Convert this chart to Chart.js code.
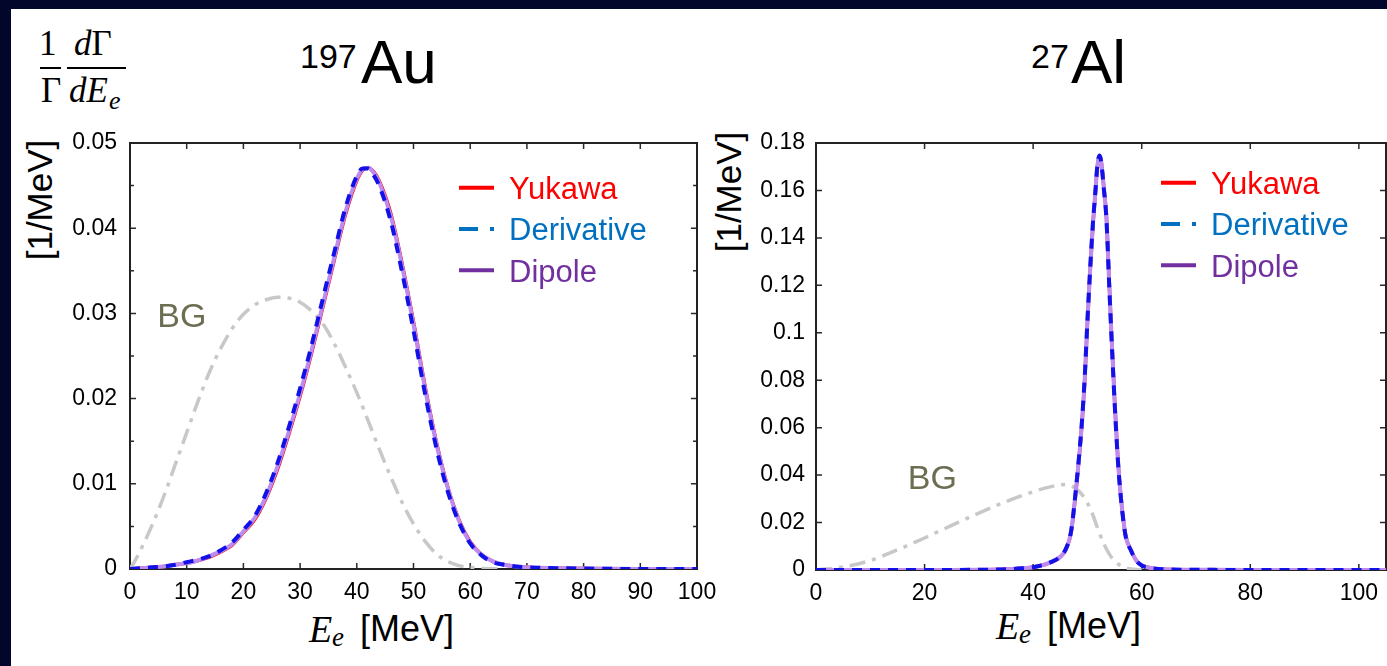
<!DOCTYPE html>
<html>
<head>
<meta charset="utf-8">
<script src="https://cdn.jsdelivr.net/npm/chart.js@4.4.1/dist/chart.umd.min.js"></script>
<style>
  html, body { margin:0; padding:0; width:1387px; height:666px; overflow:hidden; background:#01062a;
               font-family:"Liberation Sans", Arial, sans-serif; }
  #panel { position:absolute; left:11px; top:9px; width:1376px; height:657px; background:#fff; }
  canvas { position:absolute; top:0; }
  #cAu { left:0; }
  #cAl { left:720px; }
  .t { position:absolute; white-space:nowrap; color:#000; line-height:1; }
  .serif { font-family:"Liberation Serif", "DejaVu Serif", serif; }
  .it { font-style:italic; }
  .bar { position:absolute; height:2px; background:#000; }
  .ytitle { position:absolute; white-space:nowrap; line-height:1; font-size:35px;
            transform:translate(-50%,-50%) rotate(-90deg); }
</style>
</head>
<body>
<div id="panel"></div>

<!-- 1/Γ dΓ/dE_e -->
<div class="t serif" style="left:39px; top:26px; font-size:35px;">1</div>
<div class="bar" style="left:40px; top:67px; width:21px;"></div>
<div class="t serif" style="left:41px; top:73px; font-size:35px;">Γ</div>
<div class="t serif" style="left:74px; top:26px; font-size:35px;"><span class="it">d</span>Γ</div>
<div class="bar" style="left:67px; top:67px; width:59px;"></div>
<div class="t serif it" style="left:69px; top:73px; font-size:35px;">dE</div>
<div class="t serif it" style="left:109px; top:88px; font-size:26px;">e</div>

<!-- panel titles -->
<div class="t" style="left:300px; top:39px; font-size:34px;">197</div>
<div class="t" style="left:361px; top:31px; font-size:62px;">Au</div>
<div class="t" style="left:1031px; top:39px; font-size:34px;">27</div>
<div class="t" style="left:1071px; top:31px; font-size:62px;">Al</div>

<!-- axis titles -->
<div class="ytitle" style="left:39px; top:200px;">[1/MeV]</div>
<div class="ytitle" style="left:728px; top:192px;">[1/MeV]</div>

<div class="t serif it" style="left:309px; top:610px; font-size:38px;">E</div>
<div class="t serif it" style="left:332px; top:624px; font-size:27px;">e</div>
<div class="t" style="left:360px; top:611px; font-size:36px;">[MeV]</div>

<div class="t serif it" style="left:996px; top:607px; font-size:38px;">E</div>
<div class="t serif it" style="left:1019px; top:621px; font-size:27px;">e</div>
<div class="t" style="left:1047px; top:608px; font-size:36px;">[MeV]</div>

<canvas id="cAu" width="720" height="666"></canvas>
<canvas id="cAl" width="667" height="666"></canvas>

<script>
// ---------- 197Au : electron energy spectra (1/MeV) ----------
const auEnergy = [0,2,4,6,8,10,12,14,16,18,20,22,24,26,28,30,32,34,36,38,40,41,42,43,44,46,48,50,52,54,56,58,60,62,64,66,68,70,75,80,85,90,95,100];
const auYukawa = [0,0.0001,0.0002,0.0003,0.0005,0.0007,0.0010,0.0014,0.0020,0.0028,0.0043,0.0058,0.0083,0.0117,0.0158,0.0203,0.0253,0.0307,0.0362,0.0416,0.0456,0.0468,0.0471,0.0466,0.0455,0.0417,0.0358,0.0290,0.0216,0.0150,0.0097,0.0058,0.0032,0.0017,0.0009,0.0005,0.0003,0.0002,0.0001,0.00005,0.00002,0,0,0];
const auDerivative = [0,0.0001,0.0002,0.0003,0.0005,0.0008,0.0011,0.0015,0.0022,0.0031,0.0046,0.0062,0.0089,0.0124,0.0166,0.0212,0.0262,0.0317,0.0371,0.0424,0.0461,0.0470,0.0470,0.0462,0.0449,0.0408,0.0348,0.0280,0.0207,0.0143,0.0092,0.0055,0.0030,0.0016,0.0008,0.0005,0.0003,0.0002,0.0001,0.00005,0.00002,0,0,0];
const auDipole = [0,0.0001,0.0002,0.0003,0.0005,0.0007,0.0010,0.0015,0.0021,0.0029,0.0044,0.0060,0.0085,0.0120,0.0161,0.0206,0.0256,0.0310,0.0365,0.0419,0.0458,0.0469,0.0471,0.0465,0.0453,0.0414,0.0355,0.0287,0.0213,0.0148,0.0096,0.0057,0.0031,0.0017,0.0009,0.0005,0.0003,0.0002,0.0001,0.00005,0.00002,0,0,0];
const auBgEnergy = [0,1,2,4,6,8,10,12,14,16,18,20,22,24,26,27,28,30,32,34,36,38,40,42,44,46,48,50,52,54,56,58,60,62,65];
const auBg = [0,0.0011,0.0024,0.0053,0.0086,0.0123,0.0160,0.0197,0.0231,0.0259,0.0282,0.0299,0.0310,0.0316,0.0319,0.0319,0.0318,0.0313,0.0303,0.0288,0.0265,0.0237,0.0207,0.0174,0.0140,0.0108,0.0078,0.0053,0.0033,0.0018,0.0009,0.0004,0.0002,0.0001,0];
const auXTicks = [0,10,20,30,40,50,60,70,80,90,100];
const auYTicks = [0,0.01,0.02,0.03,0.04,0.05];
const auYMinor = [0.005,0.015,0.025,0.035,0.045];

// ---------- 27Al : electron energy spectra (1/MeV) ----------
const alEnergy = [0,5,10,15,20,25,30,35,38,40,42,43,44,45,46,47,48,48.5,49,49.5,50,50.5,51,51.5,51.75,52,52.25,52.5,52.75,53,53.5,54,54.5,55,55.5,56,57,58,59,60,62,65,70,80,90,100,105];
const alYukawa = [0,0,0,0,0,0,0.0001,0.0003,0.0007,0.0012,0.0022,0.0030,0.0040,0.0055,0.0085,0.0160,0.0360,0.0480,0.0620,0.0800,0.1040,0.1260,0.1450,0.1600,0.1680,0.1728,0.1745,0.1728,0.1680,0.1620,0.1490,0.1220,0.0960,0.0720,0.0510,0.0350,0.0150,0.0085,0.0040,0.0020,0.0007,0.0002,0.0001,0,0,0,0];
const alDerivative = [0,0,0,0,0,0,0.0001,0.0003,0.0007,0.0012,0.0022,0.0031,0.0041,0.0057,0.0088,0.0165,0.0368,0.0490,0.0630,0.0812,0.1052,0.1270,0.1458,0.1606,0.1684,0.1731,0.1747,0.1726,0.1676,0.1612,0.1478,0.1206,0.0948,0.0710,0.0502,0.0344,0.0147,0.0083,0.0039,0.0019,0.0007,0.0002,0.0001,0,0,0,0];
const alDipole = [0,0,0,0,0,0,0.0001,0.0003,0.0007,0.0012,0.0022,0.0030,0.0040,0.0056,0.0086,0.0162,0.0364,0.0485,0.0625,0.0806,0.1046,0.1265,0.1454,0.1603,0.1682,0.1730,0.1746,0.1727,0.1678,0.1616,0.1484,0.1213,0.0954,0.0715,0.0506,0.0347,0.0149,0.0084,0.0040,0.0020,0.0007,0.0002,0.0001,0,0,0,0];
const alBgEnergy = [0,5,10,15,20,25,30,35,40,42,44,45,46,47,48,49,50,51,52,53,54,55,56,57,58,60];
const alBg = [0,0.0013,0.0040,0.0085,0.0135,0.0188,0.0240,0.0288,0.0330,0.0344,0.0355,0.0359,0.0360,0.0355,0.0341,0.0318,0.0282,0.0232,0.0168,0.0112,0.0068,0.0038,0.0020,0.0010,0.0004,0];
const alXTicks = [0,20,40,60,80,100];
const alYTicks = [0,0.02,0.04,0.06,0.08,0.1,0.12,0.14,0.16,0.18];

const seriesNames = ['Yukawa','Derivative','Dipole'];
const FONT = '"Liberation Sans", Arial, sans-serif';

const pts = (xs, ys) => xs.map((x, i) => ({ x, y: ys[i] }));

// Frame around the plot area with inward ticks on all four sides
const frameTicks = {
  id: 'frameTicks',
  beforeDatasetsDraw(chart, args, o) {
    const { ctx, chartArea: a, scales: { x, y } } = chart;
    ctx.save();
    ctx.strokeStyle = '#2a2a2a';
    ctx.lineWidth = 1.5;
    ctx.beginPath();
    o.xMajor.forEach(v => {
      const px = x.getPixelForValue(v);
      ctx.moveTo(px, a.bottom); ctx.lineTo(px, a.bottom - o.len);
      ctx.moveTo(px, a.top); ctx.lineTo(px, a.top + o.len);
    });
    o.yMajor.forEach(v => {
      const py = y.getPixelForValue(v);
      ctx.moveTo(a.left, py); ctx.lineTo(a.left + o.len, py);
      ctx.moveTo(a.right, py); ctx.lineTo(a.right - o.len, py);
    });
    (o.yMinor || []).forEach(v => {
      const py = y.getPixelForValue(v);
      ctx.moveTo(a.left, py); ctx.lineTo(a.left + o.minorLen, py);
      ctx.moveTo(a.right, py); ctx.lineTo(a.right - o.minorLen, py);
    });
    ctx.stroke();
    ctx.lineWidth = 2;
    ctx.strokeStyle = '#222';
    ctx.strokeRect(a.left, a.top, a.right - a.left, a.bottom - a.top);
    ctx.restore();
  }
};

// Legend drawn inside the plot area, plus the "BG" note
const innerLegend = {
  id: 'innerLegend',
  afterDatasetsDraw(chart, args, o) {
    const { ctx, chartArea: a, scales: { x, y } } = chart;
    ctx.save();
    o.items.forEach((it, i) => {
      const yy = a.top + o.rowTop + i * o.rowGap;
      ctx.beginPath();
      ctx.setLineDash(it.dash);
      ctx.strokeStyle = it.line;
      ctx.lineWidth = 4;
      ctx.moveTo(a.left + o.sampleX, yy);
      ctx.lineTo(a.left + o.sampleX + o.sampleLen, yy);
      ctx.stroke();
      ctx.setLineDash([]);
      ctx.fillStyle = it.text;
      ctx.font = o.fontSize + 'px ' + FONT;
      ctx.textBaseline = 'alphabetic';
      ctx.textAlign = 'left';
      ctx.fillText(it.label, a.left + o.textX, yy + 0.37 * o.fontSize);
    });
    ctx.fillStyle = '#6d6d52';
    ctx.font = o.bgSize + 'px ' + FONT;
    ctx.textBaseline = 'middle';
    ctx.fillText('BG', x.getPixelForValue(o.bgAt[0]), y.getPixelForValue(o.bgAt[1]));
    ctx.restore();
  }
};

const legendItems = [
  { label: seriesNames[0], line: '#ff0000', text: '#ff0000', dash: [] },
  { label: seriesNames[1], line: '#0070c0', text: '#0070c0', dash: [19, 12, 4, 40] },
  { label: seriesNames[2], line: '#7030a0', text: '#7030a0', dash: [] }
];

function datasets(e, yuk, der, dip, bgE, bg) {
  const base = { pointRadius: 0, fill: false, cubicInterpolationMode: 'monotone' };
  return [
    Object.assign({ label: seriesNames[1], data: pts(e, der), borderColor: '#1212e8', borderWidth: 4, borderDash: [10, 8] }, base),
    Object.assign({ label: seriesNames[2], data: pts(e, dip), borderColor: '#bd8cf0', borderWidth: 4 }, base),
    Object.assign({ label: seriesNames[0], data: pts(e, yuk), borderColor: '#ff0000', borderWidth: 3.5 }, base),
    Object.assign({ label: 'BG', data: pts(bgE, bg), borderColor: '#c8c8c8', borderWidth: 3.5, borderDash: [16, 7, 4, 7] }, base)
  ];
}

function build(id, c) {
  return new Chart(document.getElementById(id), {
    type: 'line',
    data: { datasets: datasets(c.e, c.yuk, c.der, c.dip, c.bgE, c.bg) },
    options: {
      responsive: false,
      animation: false,
      events: [],
      layout: { padding: { left: 0, top: 143, right: c.padRight, bottom: 0 } },
      plugins: {
        legend: { display: false },
        tooltip: { enabled: false },
        frameTicks: { xMajor: c.xTicks, yMajor: c.yTicks, yMinor: c.yMinor, len: 6, minorLen: 4 },
        innerLegend: { items: legendItems, rowTop: c.legTop, rowGap: 41.3, sampleX: c.legX, sampleLen: 35,
                       textX: c.legX + 50, fontSize: 31, bgSize: 34, bgAt: c.bgAt }
      },
      scales: {
        x: {
          type: 'linear', min: 0, max: c.xMax,
          grid: { display: false, drawTicks: false }, border: { display: false },
          afterFit: s => { s.height = c.xAxisH; s.paddingLeft = 0; s.paddingRight = 0; },
          afterBuildTicks: s => { s.ticks = c.xTicks.map(v => ({ value: v })); },
          ticks: { autoSkip: false, maxRotation: 0, padding: 10, color: '#000',
                   font: { family: FONT, size: 23 }, callback: v => String(v) }
        },
        y: {
          type: 'linear', min: 0, max: c.yMax,
          grid: { display: false, drawTicks: false }, border: { display: false },
          afterFit: s => { s.width = c.yAxisW; s.paddingTop = 0; s.paddingBottom = 0; },
          afterBuildTicks: s => { s.ticks = c.yTicks.map(v => ({ value: v })); },
          ticks: { autoSkip: false, padding: c.yPad, color: '#000',
                   font: { family: FONT, size: 23 }, callback: v => String(v) }
        }
      }
    },
    plugins: [frameTicks, innerLegend]
  });
}

build('cAu', {
  e: auEnergy, yuk: auYukawa, der: auDerivative, dip: auDipole, bgE: auBgEnergy, bg: auBg,
  xTicks: auXTicks, yTicks: auYTicks, yMinor: auYMinor, xMax: 100, yMax: 0.05,
  padRight: 23, xAxisH: 97, yAxisW: 130, yPad: 13, legTop: 44.7, legX: 329, bgAt: [4.8, 0.0295]
});

build('cAl', {
  e: alEnergy, yuk: alYukawa, der: alDerivative, dip: alDipole, bgE: alBgEnergy, bg: alBg,
  xTicks: alXTicks, yTicks: alYTicks, yMinor: [], xMax: 105, yMax: 0.18,
  padRight: 1, xAxisH: 96, yAxisW: 96, yPad: 11, legTop: 39.7, legX: 345, bgAt: [16.9, 0.0379]
});
</script>
</body>
</html>
